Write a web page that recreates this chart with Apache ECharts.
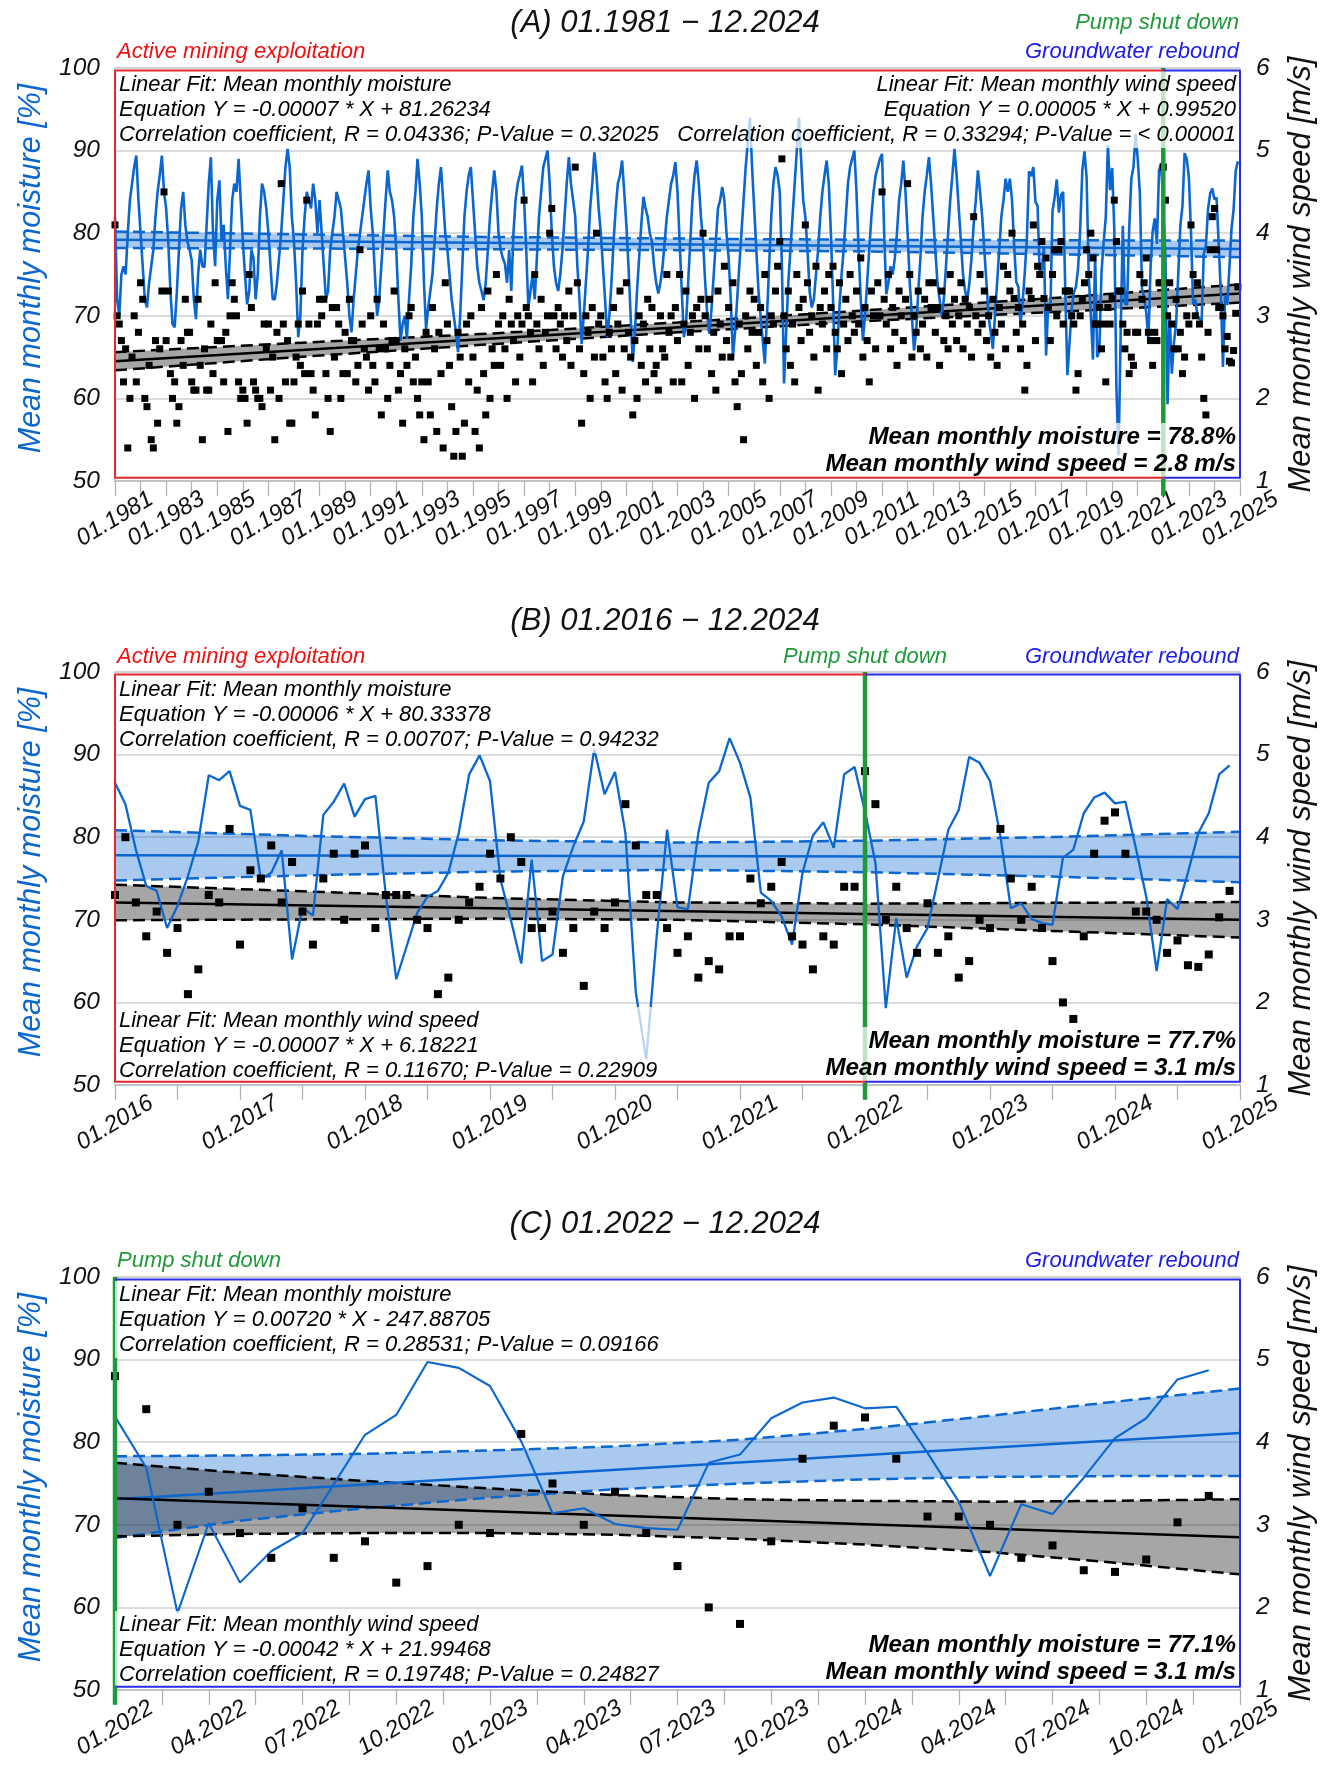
<!DOCTYPE html>
<html><head><meta charset="utf-8">
<script src="https://cdn.jsdelivr.net/npm/echarts@6/dist/echarts.min.js"></script>
<style>html,body{margin:0;padding:0;background:#fff}#c{width:1328px;height:1787px}</style>
</head><body><div id="c"></div>
<script>
// ---------------- DATA (month index 0 = 01.1981) ----------------
// Mean monthly moisture [%], one row per year (Jan..Dec)
const moisture1981to2015 = [
 82,72,70,75,76,75,80,84,86,88,89.4,84,
 80,76,72,71,74,76,78,82,85,87,89.4,85,
 83,79,73,69,68.6,72.7,78,83,85,81,79,78,
 76.7,72,69.6,75,78,76,75.9,81,86,89.2,80,76,
 84,86.4,79,81,76,72,78,84,86,85,89,84,
 79,75,71.4,73,78,77,72,75,82,86,85,83,
 80,76,72,72,74,77,80,84,88,90.2,88,82,
 79,74,67.4,70,78,82,85,84,83,86,84,80,
 84,80,76,72,73,78,80,82,85,84,83,80,
 77,74,70,68,72,75,78,80,82,84,86,87.6,
 83,80,75,70,72,76,80,84,87.6,85,84,82,
 78,72,67,69,70,67.2,72,76,82,85,89,86,
 82,74,68.4,71,73,75,79,83,86,88,84,80,
 78,75,72,70,68,65.6,70,76,82,85,87,88,
 84,80,76,74,73,71.9,74,78,82,85,87.6,85,
 80,78,77,76.3,74,78,73,80,84,86,87,88.2,
 84,78,71,73,75,72,77,82,85,88,89,90,
 86,80,76,74,73,75,78,82,86,89.2,86,84,
 82,76,72,66.6,70,74,78,83,86,89.8,87,83,
 80,76,72,67.4,70,74,79,83,86,87,88.8,85,
 81,76,70,64.4,68,73,77,81,84.4,83,82,80,
 79,76,74,72.7,74,76,79,82,84,86,87,88.6,
 85,79,73,67.4,69,74,79,84,87,88.8,86,82,
 79,74,70,67.8,71,75,79,83,84,85.6,84,80,
 77,72,65,68,72,76,80,84,88,91,94,88,
 83,78,73,70,67,64.2,70,76,82,86,88,87,
 85,76,61.8,68,74,78,82,86,90,94,89,84,
 82,78,73,71,72,75,78,82,85,87,88.8,86,
 80,72,62.8,66,71,75,78,82,86,88,89,90,
 85,78,72,67,70,74,78,82,85,87,88,89,
 89.6,80,72.6,74,76,75,77,80,84,86,88.8,85,
 80,74,70,65.8,68,73,77,82,85,87,89.2,86,
 82,78,74,72,70,72,76,80,84,87,90.2,87,
 83,79,75,73,71.9,74,77,81,84,87.6,85,82,
 78,74,70,68,66,70,74,78,82,84,86.6,85
];
const moisture2016to2021 = [
 86.6,84.0,78.5,74.1,73.5,69.0,71.7,75.3,79.5,87.5,86.9,88.0,
 83.8,83.3,74.9,75.7,78.4,65.2,71.5,70.5,82.7,84.3,86.5,82.5,
 84.6,85.0,73.0,62.8,66.8,70.8,72.8,73.5,75.7,80.5,87.6,89.9,
 86.8,74.9,70.0,64.7,77.3,65.0,65.8,75.3,78.9,81.9,90.7,85.2,
 87.9,80.5,61.2,53.1,68.0,80.9,71.5,71.3,80.5,86.6,88.0,92.0,
 89.0,84.8,73.3,72.3,70.4,67.0,75.7,80.2,81.8,78.7,87.6,88.5
];
const moisture2022to2024 = [
 83.1,76.9,59.3,70.2,63.0,66.8,69.0,74.9,80.9,83.3,89.7,89.0,
 86.8,80.1,71.4,72.0,70.1,69.6,69.4,77.5,78.5,82.9,84.8,85.4,
 84.1,84.3,78.7,72.8,63.8,72.5,71.3,75.7,80.5,82.9,87.6,88.7
];
// Mean monthly wind speed [m/s]
const wind1981to2015 = [
 4.1,3.0,2.9,2.7,2.2,2.6,1.4,2.0,2.5,3.0,2.2,2.8,
 3.4,3.2,2.0,1.9,2.4,1.5,1.4,2.7,1.7,2.6,3.3,4.5,
 2.7,3.3,2.3,2.0,2.2,1.7,1.9,2.7,2.4,3.2,2.8,2.8,
 2.2,2.1,2.1,3.2,2.4,1.5,2.6,2.1,2.1,2.9,2.3,3.4,
 2.7,2.7,2.7,2.2,2.8,1.6,3.0,3.4,3.2,3.0,2.2,2.0,
 2.1,2.0,1.7,3.5,3.1,2.2,2.1,2.0,2.0,1.9,2.9,2.6,
 2.9,2.1,2.5,1.5,2.8,2.0,4.6,2.9,2.2,2.7,1.7,1.7,
 2.2,2.5,2.9,2.4,3.3,2.3,4.4,2.9,2.3,2.1,1.8,2.9,
 3.2,3.0,3.2,2.3,2.0,1.6,3.1,2.5,3.1,2.9,2.0,2.3,
 2.8,2.3,3.2,2.7,2.7,2.2,2.4,3.8,2.9,2.6,2.5,2.1,
 3.0,2.4,2.2,3.2,2.6,1.8,2.9,2.6,2.0,2.4,2.7,3.3,
 2.7,2.1,2.3,1.7,2.6,2.4,3.0,3.1,2.2,2.5,2.0,1.8,
 2.2,1.5,2.8,2.2,1.8,3.1,2.6,1.6,2.8,2.3,1.4,3.4,
 2.9,2.4,1.9,1.3,1.6,2.8,2.5,1.3,1.7,2.9,2.2,3.0,
 2.5,1.6,2.1,1.4,3.1,2.3,1.8,3.3,2.0,2.6,2.4,3.5,
 2.9,2.4,3.0,2.6,2.0,3.2,2.9,2.7,2.2,3.0,2.5,2.9,
 4.4,3.1,3.0,2.8,2.2,3.5,2.9,2.6,3.2,2.4,2.8,3.0,
 4.0,4.3,3.0,2.6,3.1,2.9,2.5,3.0,2.7,3.3,2.4,3.0,
 4.8,3.4,2.6,1.7,2.3,3.0,2.8,2.0,3.1,2.5,4.0,2.9,
 3.0,2.5,2.2,2.0,2.8,2.6,3.1,2.3,2.9,3.3,2.1,2.6,
 3.4,2.8,2.5,1.8,2.7,2.0,3.0,2.4,2.9,2.2,3.2,2.6,
 3.1,2.3,2.4,2.1,3.0,2.6,2.5,3.5,2.8,3.0,2.2,3.1,
 2.7,3.5,2.2,2.9,3.3,2.4,2.8,3.0,2.0,3.1,2.6,3.2,
 4.0,3.0,2.6,3.2,2.3,2.8,2.1,3.3,2.9,2.5,3.6,2.7,
 3.1,2.5,3.4,2.2,1.9,2.9,2.3,1.5,3.0,2.6,3.3,2.8,
 3.2,2.4,2.8,3.1,2.2,3.5,2.7,2.0,3.0,2.9,3.3,3.6,
 3.9,4.9,3.0,2.6,3.3,2.4,2.9,2.2,3.5,3.1,2.7,3.2,
 4.1,3.4,2.8,3.0,2.5,3.6,2.1,3.1,2.9,3.3,2.6,3.5,
 3.1,3.6,2.8,2.6,3.4,2.3,2.9,3.2,2.7,3.5,3.0,2.8,
 3.3,2.9,3.7,2.5,3.1,2.7,2.2,3.3,3.0,2.6,3.4,3.0,
 4.5,3.2,2.9,3.5,2.6,3.1,2.8,2.4,3.3,3.0,2.7,3.2,
 4.6,3.5,2.5,3.0,2.8,3.3,2.6,2.9,3.2,2.5,3.4,3.1,
 3.4,2.8,3.1,2.4,3.3,2.7,3.0,2.6,3.5,2.9,3.2,2.7,
 3.0,3.4,2.6,3.2,2.9,3.1,2.5,4.2,3.0,2.8,3.5,2.9,
 3.3,2.7,3.0,2.5,3.2,2.8,2.4,3.1,2.9,3.6,2.6,3.5
];
const wind2016to2021 = [
 3.3,4.0,3.21,2.8,3.1,2.6,2.9,2.1,2.4,3.3,3.21,4.1,
 2.7,3.6,3.5,3.9,3.21,3.7,3.1,2.7,3.5,3.8,3.0,3.8,
 3.9,2.9,3.3,3.3,3.3,3.0,2.9,2.1,2.3,3.0,3.21,3.4,
 3.8,3.5,4.0,3.7,2.9,2.9,3.1,2.6,2.9,2.2,3.1,2.9,
 3.21,4.4,3.9,3.3,3.3,2.9,2.6,2.8,2.3,2.5,2.4,2.8,
 2.8,3.5,3.2,3.4,3.7,2.8,2.7,2.4,2.8,2.7,3.4,3.4
];
const wind2022to2024 = [
 4.8,4.4,3.0,3.4,2.9,2.6,3.2,2.6,2.8,2.3,2.5,3.0,
 2.9,4.1,3.5,3.0,3.4,2.9,2.5,2.0,1.8,2.8,3.8,4.2,
 4.3,3.8,3.1,3.1,3.0,2.6,2.75,2.45,2.43,2.58,3.03,3.35
];
// Linear fits (read at panel ends) and confidence bands (read at several months)
const fitA_x = [0, 528], fitA_moisture = [79.2, 78.1], fitA_wind = [2.45, 3.27];
const bandA_x = [0, 88, 176, 264, 352, 440, 528];
const bandA_moistureLow  = [78.2, 78.15, 78.05, 77.95, 77.8, 77.45, 77.1];
const bandA_moistureHigh = [80.2, 79.85, 79.55, 79.35, 79.2, 79.15, 79.1];
const bandA_windLow  = [2.34, 2.505, 2.655, 2.80, 2.935, 3.045, 3.16];
const bandA_windHigh = [2.56, 2.675, 2.785, 2.92, 3.065, 3.215, 3.38];

const fitB_x = [420, 528], fitB_moisture = [77.8, 77.6], fitB_wind = [3.21, 3.00];
const bandB_x = [420, 438, 456, 474, 492, 510, 528];
const bandB_moistureLow  = [74.75, 75.37, 75.83, 76.05, 75.77, 75.23, 74.55];
const bandB_moistureHigh = [80.85, 80.17, 79.63, 79.35, 79.57, 80.03, 80.65];
const bandB_windLow  = [2.995, 3.005, 3.015, 3.0, 2.945, 2.865, 2.785];
const bandB_windHigh = [3.425, 3.345, 3.265, 3.21, 3.195, 3.205, 3.215];

const fitC_x = [492, 528], fitC_moisture = [73.1, 81.1], fitC_wind = [3.32, 2.85];
const bandC_x = [492, 496, 500, 504, 508, 512, 516, 520, 524, 528];
const bandC_moistureLow  = [68.4, 70.5, 72.0, 73.3, 74.3, 75.0, 75.5, 75.8, 75.9, 75.9];
const bandC_moistureHigh = [78.3, 78.4, 78.6, 79.0, 79.5, 80.3, 81.6, 83.2, 84.9, 86.5];
const bandC_windLow  = [2.86, 2.89, 2.90, 2.90, 2.88, 2.83, 2.76, 2.67, 2.54, 2.40];
const bandC_windHigh = [3.75, 3.63, 3.53, 3.44, 3.36, 3.31, 3.29, 3.28, 3.29, 3.31];

const pumpShutDownMonth = 492; // 01.2022
const moistureTicks = [50, 100, 10];
const windTicks = [1, 6, 1];

// ---------------- CHART ----------------
const moisture = moisture1981to2015.concat(moisture2016to2021, moisture2022to2024);
const windSpeed = wind1981to2015.concat(wind2016to2021, wind2022to2024);
const FONT = 'Liberation Sans, Arial, sans-serif';
const BLUE = '#0b67cf', RED = '#e5262a', FRAMEBLUE = '#2b2bea', GREEN = '#1f9a3a';
const monthLabel = v => { const m = v % 12 + 1, y = 1981 + Math.floor(v / 12); return (m < 10 ? '0' : '') + m + '.' + y; };

const panels = [
  {top: 68, min: 0, max: 528, interval: 24, lw: 2.6, ss: 7,
   fitX: fitA_x, fitM: fitA_moisture, fitW: fitA_wind, bx: bandA_x,
   mLo: bandA_moistureLow, mHi: bandA_moistureHigh, wLo: bandA_windLow, wHi: bandA_windHigh,
   frames: [[0, 492, RED, 'L'], [492, 528, FRAMEBLUE, 'R']]},
  {top: 672, min: 420, max: 528, interval: 12, lw: 2.3, ss: 8,
   fitX: fitB_x, fitM: fitB_moisture, fitW: fitB_wind, bx: bandB_x,
   mLo: bandB_moistureLow, mHi: bandB_moistureHigh, wLo: bandB_windLow, wHi: bandB_windHigh,
   frames: [[420, 492, RED, 'L'], [492, 528, FRAMEBLUE, 'R']]},
  {top: 1277, min: 492, max: 528, interval: 3, lw: 2.1, ss: 8,
   fitX: fitC_x, fitM: fitC_moisture, fitW: fitC_wind, bx: bandC_x,
   mLo: bandC_moistureLow, mHi: bandC_moistureHigh, wLo: bandC_windLow, wHi: bandC_windHigh,
   frames: [[492, 528, FRAMEBLUE, 'R']]}
];

const series = [];
panels.forEach((p, i) => {
  const xi = i, yl = 2 * i, yr = 2 * i + 1;
  const band = (yIdx, lo, hi, fill, lineColor) => {
    series.push({
      type: 'custom', xAxisIndex: xi, yAxisIndex: yIdx, silent: true, z: 1, clip: true,
      data: p.bx.map((x, k) => [x, lo[k], hi[k]]),
      encode: {x: 0, y: [1, 2]},
      renderItem: (params, api) => {
        if (params.dataIndexInside !== 0) return {type: 'group', children: []};
        const pts = [];
        p.bx.forEach((x, k) => pts.push(api.coord([x, hi[k]])));
        for (let k = p.bx.length - 1; k >= 0; k--) pts.push(api.coord([p.bx[k], lo[k]]));
        return {type: 'polygon', shape: {points: pts}, style: {fill: fill}};
      }
    });
    [lo, hi].forEach(arr => series.push({type: 'line', xAxisIndex: xi, yAxisIndex: yIdx, data: p.bx.map((x, k) => [x, arr[k]]),
      symbol: 'none', lineStyle: {color: lineColor, width: 2.5, type: [12, 6]}, silent: true, z: 2}));
  };
  band(yl, p.mLo, p.mHi, 'rgba(9,101,209,0.35)', BLUE);
  band(yr, p.wLo, p.wHi, 'rgba(0,0,0,0.35)', '#000');
  series.push({type: 'line', xAxisIndex: xi, yAxisIndex: yl, data: p.fitX.map((x, k) => [x, p.fitM[k]]), symbol: 'none', lineStyle: {color: BLUE, width: 2.5}, silent: true, z: 3});
  series.push({type: 'line', xAxisIndex: xi, yAxisIndex: yr, data: p.fitX.map((x, k) => [x, p.fitW[k]]), symbol: 'none', lineStyle: {color: '#000', width: 2.5}, silent: true, z: 3});
  const mData = [], wData = [];
  for (let m = p.min; m < p.max; m++) { mData.push([m, moisture[m]]); wData.push([m, windSpeed[m]]); }
  series.push({type: 'line', xAxisIndex: xi, yAxisIndex: yl, data: mData, symbol: 'none', lineStyle: {color: BLUE, width: p.lw}, silent: true, z: 4});
  series.push({type: 'scatter', xAxisIndex: xi, yAxisIndex: yr, data: wData, symbol: 'rect', symbolSize: p.ss, itemStyle: {color: '#000', opacity: 1}, silent: true, z: 5});
  series.push({type: 'line', xAxisIndex: xi, yAxisIndex: yl, data: [[pumpShutDownMonth, 100], [pumpShutDownMonth, 48.2]], clip: false, symbol: 'none', lineStyle: {color: GREEN, width: 4.5}, silent: true, z: 6});
  // period frames (open on the pump shut-down side, which the green line marks)
  p.frames.forEach(f => {
    const a = f[0], b = f[1], T = 99.7, B = 50.4;
    const d = f[3] === 'L' ? [[b, T], [a, T], [a, B], [b, B]] : [[a, T], [b, T], [b, B], [a, B]];
    series.push({type: 'line', xAxisIndex: xi, yAxisIndex: yl, data: d, clip: false, symbol: 'none', lineStyle: {color: f[2], width: 2}, silent: true, z: 12});
  });
});

const txt = (text, left, top, align, vAlign, size, color) => ({
  text, left, top, textAlign: align, textVerticalAlign: vAlign, padding: 0, z: 10,
  textStyle: {fontFamily: FONT, fontStyle: 'italic', fontWeight: 'normal', fontSize: size, color: color}
});
const BOXBG = 'rgba(255,255,255,0.72)';
const box = (text, x, top, align, bold) => ({
  text, left: x - 4, top: top - 1, textAlign: align, textVerticalAlign: 'top', padding: [1, 4, 1, 4], z: 10,
  backgroundColor: BOXBG,
  textStyle: {fontFamily: FONT, fontStyle: 'italic', fontWeight: bold ? 'bold' : 'normal', fontSize: bold ? 24.2 : 22, lineHeight: bold ? 27 : 25, color: '#000'}
});

const titles = [
  txt('(A) 01.1981 \u2212 12.2024', 665, 23, 'center', 'middle', 31, '#111'),
  txt('Pump shut down', 1239, 23, 'right', 'middle', 22, GREEN),
  txt('Active mining exploitation', 117, 52, 'left', 'middle', 22, '#ee1111'),
  txt('Groundwater rebound', 1239, 52, 'right', 'middle', 22, '#1a1aee'),
  box('Linear Fit: Mean monthly moisture\nEquation Y = -0.00007 * X + 81.26234\nCorrelation coefficient, R = 0.04336; P-Value = 0.32025', 119, 72, 'left'),
  box('Linear Fit: Mean monthly wind speed\nEquation Y = 0.00005 * X + 0.99520\nCorrelation coefficient, R = 0.33294; P-Value = < 0.00001', 1236, 72, 'right'),
  box('Mean monthly moisture = 78.8%\nMean monthly wind speed = 2.8 m/s', 1236, 424, 'right', true),

  txt('(B) 01.2016 \u2212 12.2024', 665, 621, 'center', 'middle', 31, '#111'),
  txt('Active mining exploitation', 117, 657, 'left', 'middle', 22, '#ee1111'),
  txt('Pump shut down', 865, 657, 'center', 'middle', 22, GREEN),
  txt('Groundwater rebound', 1239, 657, 'right', 'middle', 22, '#1a1aee'),
  box('Linear Fit: Mean monthly moisture\nEquation Y = -0.00006 * X + 80.33378\nCorrelation coefficient, R = 0.00707; P-Value = 0.94232', 119, 677, 'left'),
  box('Linear Fit: Mean monthly wind speed\nEquation Y = -0.00007 * X + 6.18221\nCorrelation coefficient, R = 0.11670; P-Value = 0.22909', 119, 1008, 'left'),
  box('Mean monthly moisture = 77.7%\nMean monthly wind speed = 3.1 m/s', 1236, 1028, 'right', true),

  txt('(C) 01.2022 \u2212 12.2024', 665, 1224, 'center', 'middle', 31, '#111'),
  txt('Pump shut down', 117, 1261, 'left', 'middle', 22, GREEN),
  txt('Groundwater rebound', 1239, 1261, 'right', 'middle', 22, '#1a1aee'),
  box('Linear Fit: Mean monthly moisture\nEquation Y = 0.00720 * X - 247.88705\nCorrelation coefficient, R = 0.28531; P-Value = 0.09166', 119, 1282, 'left'),
  box('Linear Fit: Mean monthly wind speed\nEquation Y = -0.00042 * X + 21.99468\nCorrelation coefficient, R = 0.19748; P-Value = 0.24827', 119, 1612, 'left'),
  box('Mean monthly moisture = 77.1%\nMean monthly wind speed = 3.1 m/s', 1236, 1632, 'right', true)
];

const xAxes = panels.map((p, i) => ({
  type: 'value', gridIndex: i, min: p.min, max: p.max, interval: p.interval,
  axisLine: {show: true, onZero: false, lineStyle: {color: '#bdbdbd', width: 1.5}},
  axisTick: {show: true, length: 15, lineStyle: {color: '#b0b0b0', width: 1.2}},
  minorTick: {show: true, splitNumber: 2, length: 15, lineStyle: {color: '#b0b0b0', width: 1.2}},
  splitLine: {show: false},
  axisLabel: {formatter: monthLabel, rotate: 31, align: 'center', verticalAlign: 'middle', margin: 38,
    fontFamily: FONT, fontStyle: 'italic', fontSize: 23.5, color: '#111', showMinLabel: true, showMaxLabel: true}
}));
const yAxes = [];
panels.forEach((p, i) => {
  yAxes.push({type: 'value', gridIndex: i, position: 'left', min: moistureTicks[0], max: moistureTicks[1], interval: moistureTicks[2],
    name: 'Mean monthly moisture [%]', nameLocation: 'middle', nameRotate: 90, nameGap: 68,
    nameTextStyle: {color: BLUE, fontFamily: FONT, fontStyle: 'italic', fontSize: 30.5, padding: [0, 0, 0, 12]},
    axisLine: {show: false}, axisTick: {show: false},
    axisLabel: {fontFamily: FONT, fontStyle: 'italic', fontSize: 24.5, color: '#111', margin: 15},
    splitLine: {show: true, lineStyle: {color: '#cfcfcf', width: 1.5}}});
  yAxes.push({type: 'value', gridIndex: i, position: 'right', min: windTicks[0], max: windTicks[1], interval: windTicks[2],
    name: 'Mean monthly wind speed [m/s]', nameLocation: 'middle', nameRotate: 90, nameGap: 46,
    nameTextStyle: {color: '#111', fontFamily: FONT, fontStyle: 'italic', fontSize: 31},
    axisLine: {show: false}, axisTick: {show: false},
    axisLabel: {fontFamily: FONT, fontStyle: 'italic', fontSize: 24.5, color: '#111', margin: 16},
    splitLine: {show: false}});
});

const chart = echarts.init(document.getElementById('c'), null, {renderer: 'canvas'});
chart.setOption({
  animation: false,
  backgroundColor: '#fff',
  textStyle: {fontFamily: FONT},
  title: titles,
  grid: panels.map(p => ({left: 115, right: 88, top: p.top, height: 413, show: true, borderColor: '#c8c8c8', borderWidth: 1.5, backgroundColor: 'transparent'})),
  xAxis: xAxes,
  yAxis: yAxes,
  series: series
});
</script>
</body></html>
